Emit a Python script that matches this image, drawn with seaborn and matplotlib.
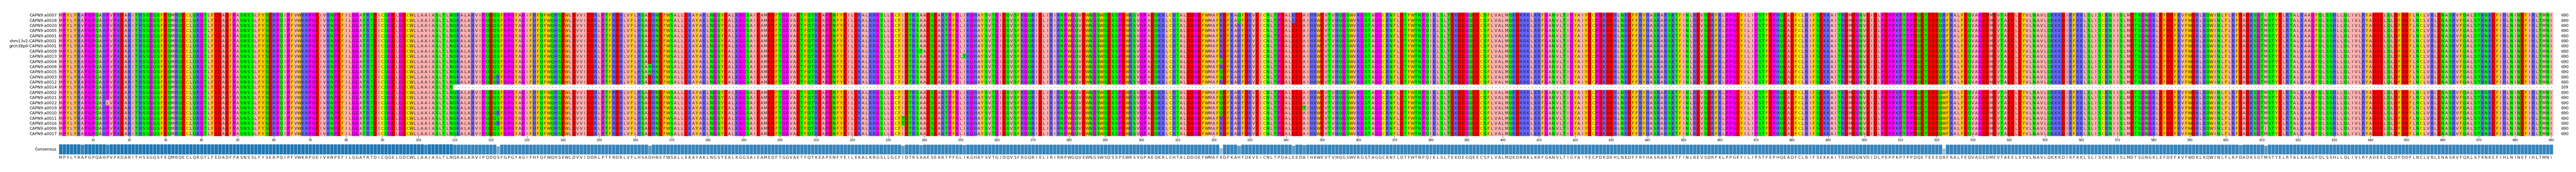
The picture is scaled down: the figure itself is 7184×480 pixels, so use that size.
import numpy as np
import pandas as pd
import matplotlib
matplotlib.use("Agg")
import matplotlib.pyplot as plt
from matplotlib.colors import ListedColormap
import seaborn as sns

names = ["CAPN9:a0007", "CAPN9:a0018", "CAPN9:a0020", "CAPN9:a0005", "CAPN9:a0001",
         "chm13v2:CAPN9:a0001", "grch38p0:CAPN9:a0001", "CAPN9:a0009", "CAPN9:a0013",
         "CAPN9:a0004", "CAPN9:a0008", "CAPN9:a0015", "CAPN9:a0003", "CAPN9:a0012",
         "CAPN9:a0014", "CAPN9:a0002", "CAPN9:a0021", "CAPN9:a0022", "CAPN9:a0019",
         "CAPN9:a0010", "CAPN9:a0011", "CAPN9:a0016", "CAPN9:a0006", "CAPN9:a0017"]

reference = (
    "MPYLYRAPGPQAHPVPKDARITHSSGQSFEQMRQECLQRGTLFEDADFPASNSSLFYSERPQIPFVWKR"
    "PGEIVKNPEFILGGATRTDICQGELGDCWLLAAIASLTLNQKALARVIPQDQSFGPGYAGIFHFQFWQHS"
    "EWLDVVIDDRLPTFRDRLVFLHSADHNEFWSALLEKAYAKLNGSYEALKGGSAIEAMEDFTGGVAETFQT"
    "KEAPENFYEILEKALKRGSLLGCFIDTRSAAESEARTPFGLIKGHAYSVTGIDQVSFRGQRIELIRIRNP"
    "WGQVEWNGSWSDSSPEWRSVGPAEQKRLCHTALDDGEFWMAFKDFKAHFDKVEICNLTPDALEEDAIHKW"
    "EVTVHQGSWVRGSTAGGCRNFLDTFWTNPQIKLSLTEKDEGQEECSFLVALMQKDRRKLKRFGANVLTIG"
    "YAIYECPDKDEHLNKDFFRYHASRARSKTFINLREVSDRFKLPPGEYILIPSTFEPHQEADFCLRIFSEK"
    "KAITRDMDGNVDIDLPEPPKPTPPDQETEEEQRFRALFEQVAGEDMEVTAEELEYVLNAVLQKKKDIKFK"
    "KLSLISCKNIISLMDTSGNGKLEFDEFKVFWDKLKQWINLFLRFDADKSGTMSTYELRTALKAAGFQLSS"
    "HLLQLIVLRYADEELQLDFDDFLNCLVRLENASRVFQALSTKNKEFIHLNINEFIHLTMNI"
)

# (row index, 1-based column, residue)
variants = [(2, 7, "V"), (17, 14, "L"), (3, 102, "V"),
            (12, 122, "R"), (13, 122, "R"), (19, 122, "R"), (21, 122, "R"),
            (10, 164, "N"), (11, 164, "N"), (7, 239, "T"), (8, 251, "T"),
            (20, 234, "T"), (21, 234, "T"),
            (0, 327, "Q"), (1, 327, "Q"), (0, 342, "K"), (1, 342, "K"),
            (9, 322, "Q"), (11, 322, "Q"), (12, 322, "Q"), (15, 322, "Q"),
            (16, 322, "Q"), (17, 322, "Q"), (18, 322, "Q"), (19, 322, "Q"),
            (18, 345, "T"), (16, 604, "E"), (0, 611, "I"), (22, 611, "I")]
variants += [(r, 522, "W") for r in range(15, 24)]
gap_row, gap_len = 14, 109

zappo = {"ILVAM": "#ffafaf", "FWY": "#ffc800", "KRH": "#6464ff", "DE": "#ff0000",
         "STNQ": "#00ff00", "PG": "#ff00ff", "C": "#ffff00", "-": "#ffffff"}

L = len(reference)
seqs = [list(reference) for _ in names]
for r, c, aa in variants:
    seqs[r][c - 1] = aa
seqs[gap_row][gap_len:] = ["-"] * (L - gap_len)
msa = np.array(seqs)

groups = list(zappo.keys())
code = {aa: i for i, g in enumerate(groups) for aa in g}
codes = np.vectorize(code.get)(msa)
cmap = ListedColormap(list(zappo.values()))

W, H = 7184, 481
fig = plt.figure(figsize=(W / 100, H / 100), dpi=100)
x0, x1 = 164 / W, 7120 / W
ax = fig.add_axes([x0, 1 - 381 / H, x1 - x0, (381 - 36) / H])
sns.heatmap(pd.DataFrame(codes, index=names), ax=ax, cmap=cmap, vmin=-0.5,
            vmax=len(groups) - 0.5, cbar=False, annot=msa, fmt="",
            annot_kws={"fontsize": 8, "color": "#222222"},
            xticklabels=False, yticklabels=names)
ax.tick_params(axis="y", length=0, pad=4, labelsize=8, labelrotation=0)
ticks = np.arange(10, L + 1, 10)
ax.set_xticks(ticks - 0.5)
ax.set_xticklabels(ticks, fontsize=6)
ax.tick_params(axis="x", length=3, width=0.6, pad=1)
for i, s in enumerate(msa):
    n = int((s != "-").sum())
    ax.text(L + 2.2, i + 0.5, str(n), va="center", ha="left", fontsize=8)

# consensus
cons, ident = [], []
for j in range(L):
    vals, cnt = np.unique(msa[:, j][msa[:, j] != "-"], return_counts=True)
    k = cnt.argmax()
    cons.append(vals[k])
    ident.append(cnt[k] / len(names))
cax = fig.add_axes([x0, 1 - 432 / H, x1 - x0, (432 - 403) / H])
cdf = pd.DataFrame({"pos": np.arange(L), "ident": ident})
sns.barplot(data=cdf, x="pos", y="ident", ax=cax, color="#1f77b4", width=1.0,
            edgecolor="#d0e0ee", linewidth=0.8, saturation=1)
for bar, v in zip(cax.patches, ident):
    bar.set_alpha(0.35 + 0.65 * v ** 4)
cax.set_xlim(-0.5, L - 0.5)
cax.set_ylim(0, 1)
cax.axis("off")
for j, aa in enumerate(cons):
    cax.text(j, -0.28, aa, ha="center", va="center", fontsize=8, color="#222222")
cax.text(-1.2, 0.5, "Consensus", ha="right", va="center", fontsize=8)

fig.savefig("out.png", dpi=100)
